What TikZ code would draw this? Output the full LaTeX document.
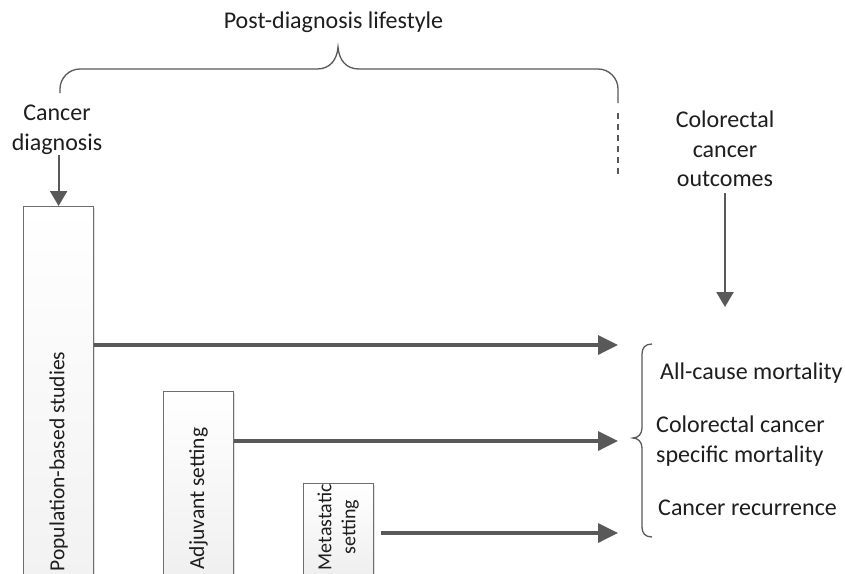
\documentclass[tikz,border=0pt]{standalone}
\usepackage{fontspec}
\setmainfont{Carlito}
\usetikzlibrary{arrows.meta,shadows,calc}
\definecolor{ln}{HTML}{595959}
\definecolor{bx}{HTML}{6E6E6E}
\definecolor{tx}{HTML}{1E1E1E}
\begin{document}
\begin{tikzpicture}[x=1pt,y=-1pt,
  txt/.style={inner sep=0pt, text=tx, font=\fontsize{24}{29.5}\selectfont},
  studybox/.style={draw=bx, line width=1.2pt, top color=white, bottom color=gray!14,
    inner sep=0pt, minimum width=70pt, anchor=north west,
    font=\fontsize{21.5}{24.5}\selectfont, text=tx,
    drop shadow={shadow xshift=1.5pt, shadow yshift=-1.5pt, fill=black, opacity=0.12}},
  bigarrow/.style={ln, line width=3.5pt, -{Triangle[length=20pt,width=19pt]}},
  downarrow/.style={ln, line width=2.2pt, -{Triangle[length=15pt,width=17pt]}},
  bracket/.style={ln, line width=1.3pt}]
\clip (0,0) rectangle (845,573);
\fill[white] (0,0) rectangle (845,573);

% boxes
\node[studybox, minimum height=510pt] (box1) at (23,206) {\rotatebox{90}{Population-based studies}};
\node[studybox, minimum height=214pt] (box2) at (163,391) {\rotatebox{90}{Adjuvant setting}};
\node[studybox, minimum height=100pt, font=\fontsize{20}{24}\selectfont] (box3) at (303,483) {\rotatebox{90}{\hspace*{13pt}\begin{tabular}{@{}c@{}}Metastatic\\setting\end{tabular}}};

% texts
\node[txt, anchor=base] (pdl) at (333.5,28.5) {Post-diagnosis lifestyle};
\node[txt, align=center] (cd) at (57,130) {Cancer\\diagnosis};
\node[txt, align=center] (co) at (725,149) {Colorectal\\cancer\\outcomes};
\node[txt, anchor=base west] (o1) at (660,379) {All-cause mortality};
\node[txt, anchor=west, align=left] (o2) at (656,441) {Colorectal cancer\\specific mortality};
\node[txt, anchor=base west] (o3) at (658,515) {Cancer recurrence};

% brace over the top
\draw[bracket] (60,93) -- (60,89) .. controls (60,78) and (69,69) .. (80,69) -- (317,69)
  .. controls (330,69) and (337,60) .. (338,47)
  .. controls (339,60) and (346,69) .. (359,69) -- (598,69)
  .. controls (609,69) and (618,78) .. (618,89) -- (618,103);
\draw[bracket, dash pattern=on 6pt off 5pt] (618,113) -- (618,175);

% brace at the right
\draw[bracket] (652,344) .. controls (645,344) and (642,348) .. (642,354) -- (642,428)
  .. controls (642,434) and (638,438) .. (633,438)
  .. controls (638,438) and (642,442) .. (642,448) -- (642,527)
  .. controls (642,533) and (645,537) .. (652,537);

% arrows
\coordinate (h1) at (618,345);
\coordinate (h2) at (618,441);
\coordinate (h3) at (618,533);
\coordinate (v2) at (725,307);
\draw[downarrow] (cd.south -| box1.north) -- (box1.north);
\draw[downarrow] ($(co.south)+(0,6)$) -- (v2);
\draw[bigarrow] (box1.east |- h1) -- (h1);
\draw[bigarrow] (box2.east |- h2) -- (h2);
\draw[bigarrow] ($(box3.east |- h3)+(7,0)$) -- (h3);
\end{tikzpicture}
\end{document}
